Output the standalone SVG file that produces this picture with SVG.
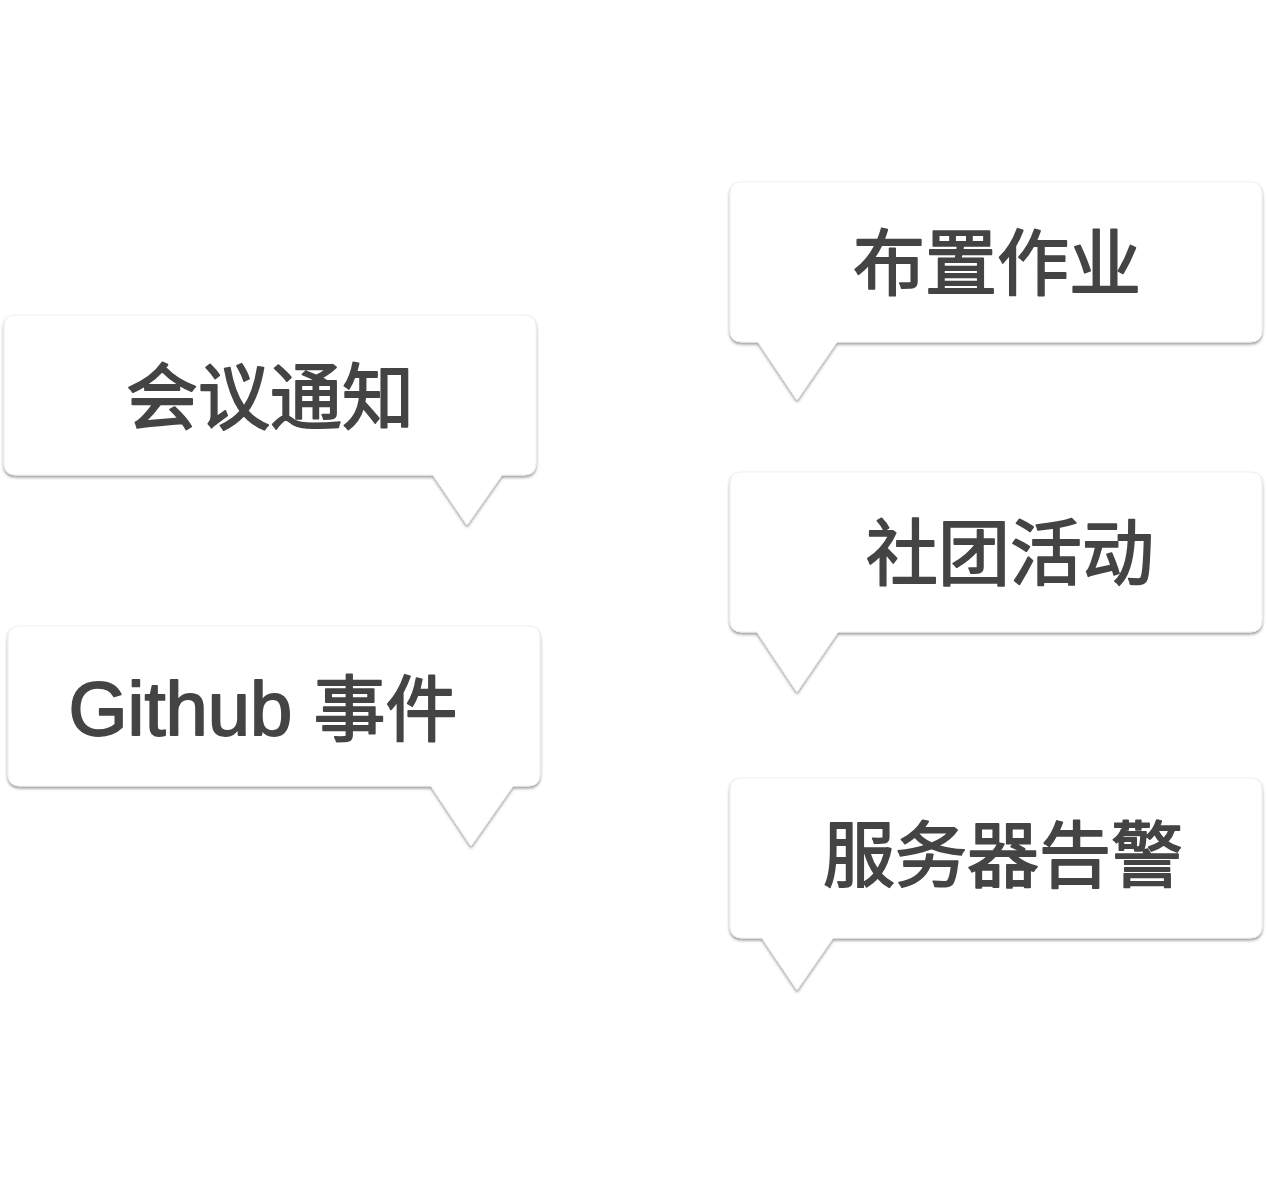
<svg xmlns="http://www.w3.org/2000/svg" width="1266" height="1200" viewBox="0 0 1266 1200">
<style>
.bubble{fill:#ffffff;stroke:#f0f0f0;stroke-width:1;filter:url(#sh)}
.label{font-family:"Noto Sans CJK SC","Liberation Sans",sans-serif;font-size:72px;font-weight:normal;fill:#444444;stroke:#444444;stroke-width:1.8;stroke-linejoin:round;text-anchor:middle}
.latin{font-family:"Liberation Sans","Noto Sans CJK SC",sans-serif;font-size:76px}
</style>
<defs>
<filter id="sh" x="-10%" y="-10%" width="120%" height="130%">
<feDropShadow dx="0" dy="2" stdDeviation="1.5" flood-color="#000000" flood-opacity="0.4"/>
</filter>
</defs>
<rect width="1266" height="1200" fill="#ffffff"/>
<g id="connectors"></g>
<g id="node-huiyi">
<path class="bubble" d="M16,315 H524 Q536,315 536,327 V463 Q536,475 524,475 H502 L467,525 L433,475 H16 Q4,475 4,463 V327 Q4,315 16,315 Z"/>
<text class="label" x="270" y="423">会议通知</text>
</g>
<g id="node-github">
<path class="bubble" d="M20,626 H528 Q540,626 540,638 V774 Q540,786 528,786 H513 L471,846 L431,786 H20 Q8,786 8,774 V638 Q8,626 20,626 Z"/>
<text class="label" x="263" y="735"><tspan class="latin">Github </tspan>事件</text>
</g>
<g id="node-zuoye">
<path class="bubble" d="M742,182 H1250 Q1262,182 1262,194 V330 Q1262,342 1250,342 H837 L797,400 L758,342 H742 Q730,342 730,330 V194 Q730,182 742,182 Z"/>
<text class="label" x="997" y="289">布置作业</text>
</g>
<g id="node-shetuan">
<path class="bubble" d="M742,472 H1250 Q1262,472 1262,484 V620 Q1262,632 1250,632 H838 L797,692 L757,632 H742 Q730,632 730,620 V484 Q730,472 742,472 Z"/>
<text class="label" x="1010" y="579">社团活动</text>
</g>
<g id="node-fuwuqi">
<path class="bubble" d="M742,778 H1250 Q1262,778 1262,790 V926 Q1262,938 1250,938 H833 L797,990 L762,938 H742 Q730,938 730,926 V790 Q730,778 742,778 Z"/>
<text class="label" x="1003" y="881">服务器告警</text>
</g>
</svg>
